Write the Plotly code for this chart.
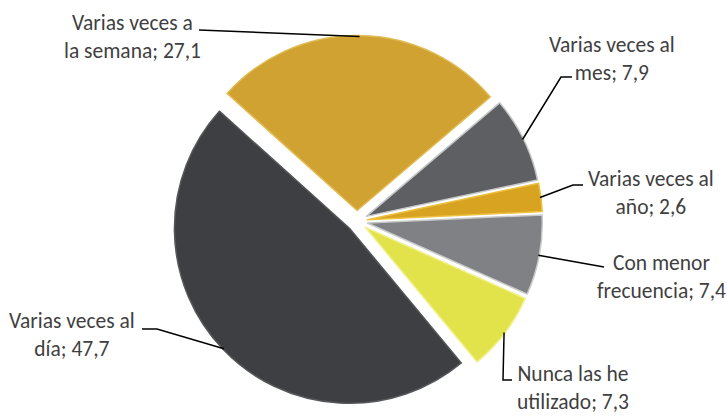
import math
import plotly.graph_objects as go

# ---- data ----
categories = ["Varias veces a la semana", "Varias veces al mes", "Varias veces al año",
              "Con menor frecuencia", "Nunca las he utilizado", "Varias veces al día"]
values = [27.1, 7.9, 2.6, 7.4, 7.3, 47.7]
label_line1 = ["Varias veces a", "Varias veces al", "Varias veces al",
               "Con menor", "Nunca las he", "Varias veces al"]
label_line2 = ["la semana; 27,1", "mes; 7,9", "año; 2,6",
               "frecuencia; 7,4", "utilizado; 7,3", "día; 47,7"]
colors = ["#D0A231", "#5D5F63", "#D8A320", "#808185", "#E2E24A", "#3D3F42"]
rim_colors = ["#E2BC55", "#C4C5C7", "#EEC040", "#C9CACC", "#F0F08A", "#55575B"]

# ---- layout constants ----
W, H = 727, 417
CX, CY = 357, 221          # pie centre in px
BOX = 371                  # pie domain box size in px
PULL = 0.06
ROT = 312
R = BOX / (2 + 2 * PULL)

# label centres (px) and leader elbow / end points (px)
label_pos = [(132, 37), (612, 59), (651, 193), (661, 277), (573, 388), (72, 335)]
elbows = [(199, 30), (561, 77), (573, 185), (604, 267), (503, 380), (157, 329)]
ends = [(199, 30), (572, 77), (583, 185), (604, 267), (512, 380), (142, 329)]

def px(x, y):
    return x / W, 1 - y / H

fig = go.Figure(go.Pie(
    labels=categories, values=values, sort=False, direction="clockwise",
    rotation=ROT, pull=[PULL] * len(values), textinfo="none",
    marker=dict(colors=colors, line=dict(color=rim_colors, width=1.5)),
    showlegend=False, hoverinfo="label+value",
    domain=dict(x=[(CX - BOX / 2) / W, (CX + BOX / 2) / W],
                y=[(H - CY - BOX / 2) / H, (H - CY + BOX / 2) / H]),
))

total = sum(values)
cum = 0
shapes = []
annotations = []
for i, v in enumerate(values):
    mid = math.radians(ROT + 360 * (cum + v / 2) / total)
    cum += v
    rr = R * (1 + PULL) - 1
    ax, ay = CX + rr * math.sin(mid), CY - rr * math.cos(mid)
    (ex, ey), (fx, fy) = elbows[i], ends[i]
    pts = [px(ax, ay), px(ex, ey), px(fx, fy)]
    path = "M {} {} L {} {} L {} {}".format(*[c for p in pts for c in p])
    shapes.append(dict(type="path", path=path, xref="paper", yref="paper",
                       line=dict(color="black", width=1.5)))
    lx, ly = px(*label_pos[i])
    annotations.append(dict(x=lx, y=ly, xref="paper", yref="paper",
                            text=label_line1[i] + "<br>" + label_line2[i],
                            showarrow=False, align="center",
                            xanchor="center", yanchor="middle",
                            font=dict(family="Carlito, Calibri, Lato, sans-serif",
                                      size=21.5, color="#3F3F3F")))

fig.update_layout(width=W, height=H, margin=dict(l=0, r=0, t=0, b=0),
                  paper_bgcolor="white", plot_bgcolor="white",
                  shapes=shapes, annotations=annotations)
fig.write_html("out.html", config={"displayModeBar": False},
               post_script="document.body.style.margin='0px';")
